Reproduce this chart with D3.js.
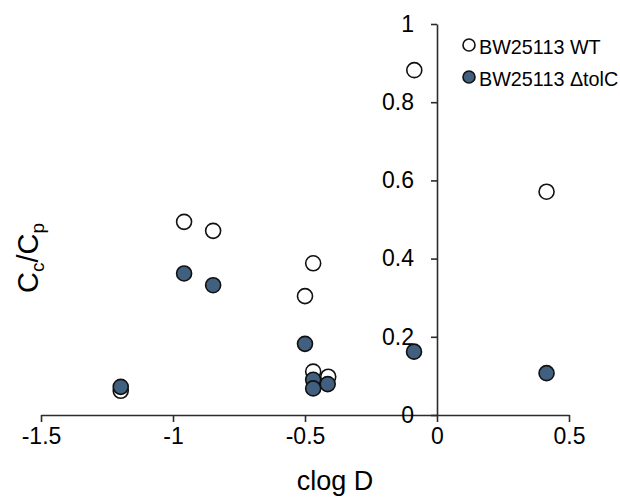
<!DOCTYPE html>
<html>
<head>
<meta charset="utf-8">
<script src="https://cdn.jsdelivr.net/npm/d3@7/dist/d3.min.js"></script>
<style>
  body { margin: 0; background: #fff; }
  svg { display: block; }
  text { font-family: "Liberation Sans", Arial, sans-serif; fill: #000; }
</style>
</head>
<body>
<svg id="chart" width="620" height="497"></svg>
<script>
// Data
const seriesNames = ["BW25113 WT", "BW25113 \u0394tolC"];
const wtX   = [-1.198, -0.958, -0.848, -0.500, -0.469, -0.469, -0.412, -0.086, 0.415];
const wtY   = [ 0.062,  0.494,  0.471,  0.304,  0.388,  0.111,  0.098,  0.882, 0.571];
const tolcX = [-1.198, -0.958, -0.848, -0.500, -0.469, -0.469, -0.414, -0.087, 0.415];
const tolcY = [ 0.072,  0.362,  0.332,  0.182,  0.090,  0.068,  0.079,  0.162, 0.107];
const xTicks = [-1.5, -1, -0.5, 0, 0.5];
const yTicks = [0, 0.2, 0.4, 0.6, 0.8, 1];

const svg = d3.select("#chart");
const x = d3.scaleLinear().domain([-1.5, 0.5]).range([41, 569]);
const y = d3.scaleLinear().domain([0, 1]).range([415, 24]);

const axisColor = "#2b2b2b";
const fmt = d => String(d);

// X axis at y=0
const xAxis = svg.append("g")
  .attr("transform", `translate(0,${y(0)})`)
  .call(d3.axisBottom(x).tickValues(xTicks).tickSizeInner(7).tickSizeOuter(0)
    .tickFormat(fmt).tickPadding(6));
xAxis.select(".domain").attr("stroke", axisColor).attr("stroke-width", 1.6);
xAxis.selectAll(".tick line").attr("stroke", axisColor).attr("stroke-width", 1.6);
xAxis.selectAll(".tick text").attr("font-size", 23).attr("font-family", "Liberation Sans, Arial, sans-serif").attr("fill", "#000");

// Y axis at x=0
const yAxis = svg.append("g")
  .attr("transform", `translate(${x(0)},0)`)
  .call(d3.axisLeft(y).tickValues(yTicks).tickSizeInner(6).tickSizeOuter(0)
    .tickFormat(fmt).tickPadding(17));
yAxis.select(".domain").attr("stroke", axisColor).attr("stroke-width", 1.6);
yAxis.selectAll(".tick line").attr("stroke", axisColor).attr("stroke-width", 1.6);
yAxis.selectAll(".tick text").attr("font-size", 23).attr("font-family", "Liberation Sans, Arial, sans-serif").attr("fill", "#000");

// Points
const wt = wtX.map((v, i) => ({ x: v, y: wtY[i] }));
const tolc = tolcX.map((v, i) => ({ x: v, y: tolcY[i] }));
const fillBlue = "#41607f";

svg.append("g").selectAll("circle").data(wt).join("circle")
  .attr("cx", d => x(d.x)).attr("cy", d => y(d.y)).attr("r", 7.5)
  .attr("fill", "#fff").attr("stroke", "#111").attr("stroke-width", 1.6);

svg.append("g").selectAll("circle").data(tolc).join("circle")
  .attr("cx", d => x(d.x)).attr("cy", d => y(d.y)).attr("r", 7.5)
  .attr("fill", fillBlue).attr("stroke", "#111").attr("stroke-width", 1.6);

// Legend
const legend = svg.append("g");
const legendItems = [
  { name: seriesNames[0], fill: "#fff", cy: 45 },
  { name: seriesNames[1], fill: fillBlue, cy: 77 }
];
legendItems.forEach(it => {
  legend.append("circle").attr("cx", 469).attr("cy", it.cy).attr("r", 6)
    .attr("fill", it.fill).attr("stroke", "#111").attr("stroke-width", 1.6);
  legend.append("text").attr("x", 479).attr("y", it.cy + 8.5)
    .attr("font-size", 19.8).text(it.name);
});

// Axis titles
svg.append("text").attr("x", 335).attr("y", 490).attr("text-anchor", "middle")
  .attr("font-size", 27).text("clog D");

const yt = svg.append("text")
  .attr("transform", "translate(38,258) rotate(-90)")
  .attr("text-anchor", "middle").attr("font-size", 29);
yt.append("tspan").text("C");
yt.append("tspan").attr("font-size", 19).attr("dy", 6).text("c");
yt.append("tspan").attr("dy", -6).text("/C");
yt.append("tspan").attr("font-size", 19).attr("dy", 6).text("p");
</script>
</body>
</html>
